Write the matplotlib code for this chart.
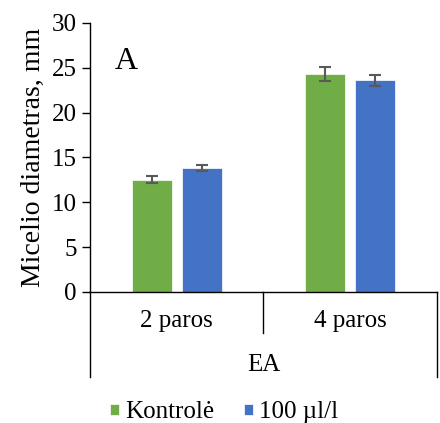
import numpy as np
import matplotlib.pyplot as plt

plt.rcParams['font.family'] = ['Liberation Serif', 'DejaVu Serif']

groups = ['2 paros', '4 paros']
outer_label = 'EA'
series = ['Kontrolė', '100 µl/l']
kontrole = [12.5, 24.3]
kontrole_err = [0.4, 0.75]
treat = [13.8, 23.6]
treat_err = [0.35, 0.6]
colors = ['#70AD47', '#4472C4']

fig = plt.figure(figsize=(4.4, 4.23), dpi=100)
ax = fig.add_axes([0.2045, 0.3097, 0.7885, 0.636])

x = np.arange(len(groups))
w = 0.23
err_kw = dict(ecolor='#595959', elinewidth=1.5, capsize=4.5, capthick=1.5)
b1 = ax.bar(x - 0.145, kontrole, w, yerr=kontrole_err, color=colors[0],
            edgecolor='white', linewidth=0.5, error_kw=err_kw, label=series[0])
b2 = ax.bar(x + 0.145, treat, w, yerr=treat_err, color=colors[1],
            edgecolor='white', linewidth=0.5, error_kw=err_kw, label=series[1])

ax.set_xlim(-0.5, 1.5)
ax.set_ylim(0, 30)
ax.set_yticks(range(0, 31, 5))
ax.tick_params(axis='y', labelsize=18, length=5.5, width=1, direction='out', pad=4)
ax.set_xticks([])
ax.spines['top'].set_visible(False)
ax.spines['right'].set_visible(False)
ax.spines['left'].set_linewidth(1)
ax.spines['bottom'].set_linewidth(1)
ax.set_ylabel('Micelio diametras, mm', fontsize=20, labelpad=4)

ax.text(0.072, 0.83, 'A', transform=ax.transAxes, fontsize=23)

# multi-level category axis
tr = ax.transAxes
for xx, yb in [(0, -0.316), (0.5, -0.152), (1, -0.316)]:
    ax.plot([xx, xx], [0, yb], color='black', lw=1, transform=tr, clip_on=False)
for i, g in enumerate(groups):
    ax.text(0.25 + 0.5 * i, -0.108, g, transform=tr, ha='center', va='center', fontsize=18)
ax.text(0.5, -0.271, outer_label, transform=tr, ha='center', va='center', fontsize=18)

fig.legend(handles=[b1, b2], loc='center', bbox_to_anchor=(0.51, 0.025), ncol=2,
           frameon=False, fontsize=18, handlelength=0.35, handleheight=0.35,
           handletextpad=0.25, columnspacing=1.2)

fig.savefig('out.png', dpi=100)
